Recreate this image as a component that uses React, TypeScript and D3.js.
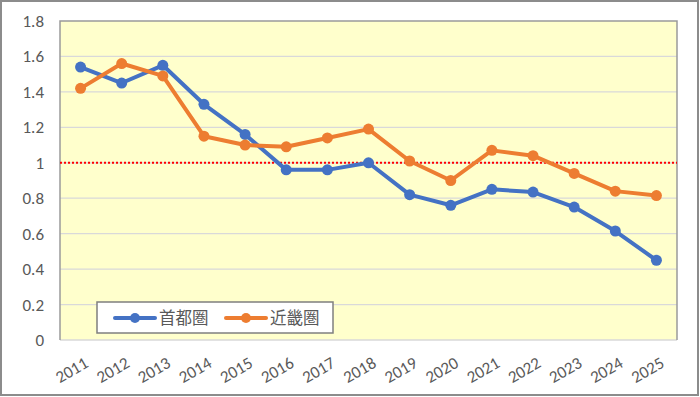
import React from "react";
import * as d3 from "d3";

const years = ["2011","2012","2013","2014","2015","2016","2017","2018","2019","2020","2021","2022","2023","2024","2025"];
const shutoken = [1.54,1.45,1.55,1.33,1.16,0.96,0.96,1.0,0.82,0.76,0.85,0.835,0.75,0.615,0.45];
const kinki = [1.42,1.56,1.49,1.15,1.1,1.09,1.14,1.19,1.01,0.9,1.07,1.04,0.94,0.84,0.815];
const yTicks = [0,0.2,0.4,0.6,0.8,1,1.2,1.4,1.6,1.8];
const seriesNames = ["首都圏","近畿圏"];
const seriesColors = ["#4472C4","#ED7D31"];
const refValue = 1;

const W = 700, H = 397;
const L = 60, R = 677, T = 21, B = 340;

export default function App() {
  const x = d3.scaleBand().domain(years).range([L, R]);
  const y = d3.scaleLinear().domain([0, 1.8]).range([B, T]);
  const cx = (d: string) => (x(d) as number) + x.bandwidth() / 2;
  const line = d3.line<number>().x((_, i) => cx(years[i])).y((v) => y(v));
  const series = [shutoken, kinki];
  const font = "Calibri, Carlito, 'Open Sans', 'Noto Sans CJK JP', sans-serif";
  return (
    <svg width={W} height={H} style={{ position: "absolute", left: 0, top: 0 }} fontFamily={font}>
      <rect x={0} y={0} width={W} height={H} fill="#fff" />
      <rect x={1} y={1} width={W - 3} height={H - 3} fill="none" stroke="#8c8c8c" strokeWidth={2} />
      <rect x={L} y={T} width={R - L} height={B - T} fill="#FFFFCC" />
      {yTicks.map((t) => (
        <g key={t}>
          {t > 0 && t < 1.8 && <line x1={L} x2={R} y1={y(t)} y2={y(t)} stroke="#D9D9D9" strokeWidth={1.3} />}
          <text x={44} y={y(t)} dy="0.35em" textAnchor="end" fontSize={17} fill="#595959">{t}</text>
        </g>
      ))}
      <line x1={L} x2={R} y1={B} y2={B} stroke="#D9D9D9" strokeWidth={1.5} />
      <path d={`M${L},${B}V${T}H${R}V${B}`} fill="none" stroke="#9a9a9a" strokeWidth={1.5} />
      <line x1={L} x2={R} y1={y(refValue)} y2={y(refValue)} stroke="#FF0000" strokeWidth={2} strokeDasharray="2,2" />
      {series.map((s, k) => (
        <g key={k}>
          <path d={line(s) as string} fill="none" stroke={seriesColors[k]} strokeWidth={4} strokeLinejoin="round" />
          {s.map((v, i) => (
            <circle key={i} cx={cx(years[i])} cy={y(v)} r={5.5} fill={seriesColors[k]} />
          ))}
        </g>
      ))}
      {years.map((yr) => (
        <text key={yr} transform={`translate(${cx(yr) + 3},${356}) rotate(-30)`} textAnchor="end" dy="0.7em" fontSize={17} fill="#595959">{yr}</text>
      ))}
      <rect x={97} y={302} width={236} height={31} fill="#fff" stroke="#7f7f7f" strokeWidth={1.5} />
      {seriesNames.map((n, k) => {
        const x0 = k === 0 ? 115 : 226;
        return (
          <g key={n}>
            <line x1={x0} x2={x0 + 40} y1={318} y2={318} stroke={seriesColors[k]} strokeWidth={4} strokeLinecap="round" />
            <circle cx={x0 + 20} cy={318} r={5} fill={seriesColors[k]} />
            <text x={x0 + 44} y={318} dy="0.35em" fontSize={16.5} fill="#595959">{n}</text>
          </g>
        );
      })}
    </svg>
  );
}
